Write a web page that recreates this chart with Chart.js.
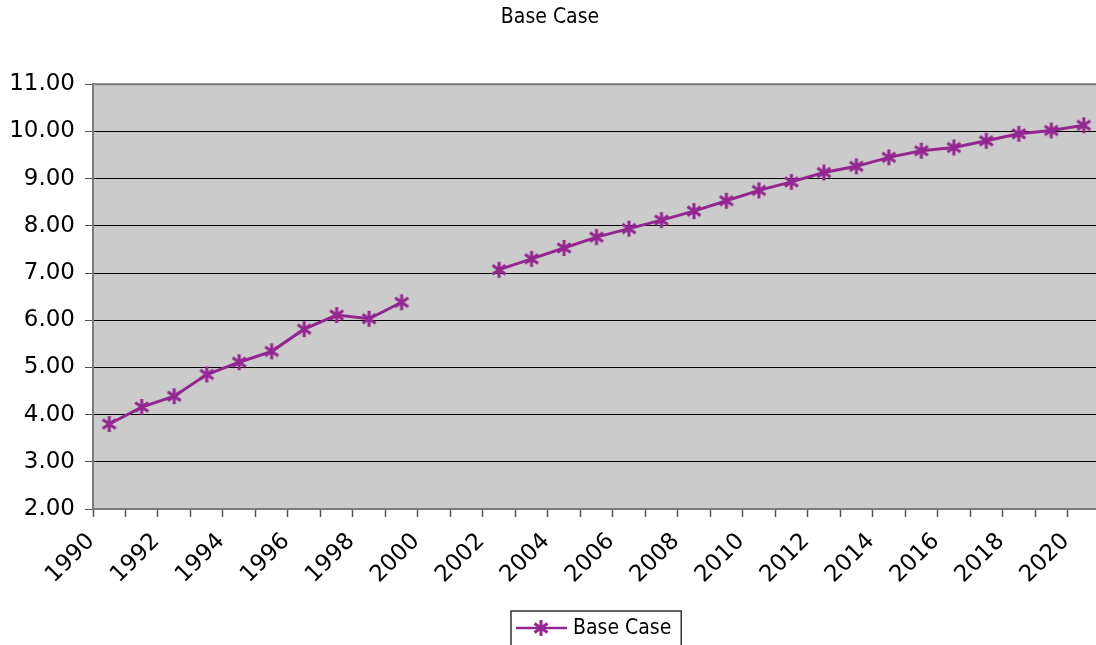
<!DOCTYPE html>
<html>
<head>
<meta charset="utf-8">
<title>Base Case</title>
<script src="https://cdn.jsdelivr.net/npm/chart.js@4.4.1/dist/chart.umd.min.js"></script>
<style>
    html, body { margin: 0; padding: 0; background: #ffffff; overflow: hidden; }
    #wrap { position: relative; width: 1100px; height: 645px; }
</style>
</head>
<body>
<div id="wrap"><canvas id="base-case-chart"></canvas></div>
<script>
// Years on the category axis
const years = [];
for (let y = 1990; y <= 2020; y++) years.push(String(y));

// Base Case series (no values for 2000 and 2001)
const baseCase = [
    3.80, 4.16, 4.39, 4.85, 5.11, 5.34, 5.81, 6.11, 6.03, 6.38,
    null, null,
    7.07, 7.30, 7.53, 7.76, 7.94, 8.12, 8.31, 8.53, 8.75, 8.93,
    9.13, 9.26, 9.45, 9.59, 9.66, 9.80, 9.95, 10.02, 10.13
];

// Only every second year gets a label
const shownYears = years.filter((y, i) => i % 2 === 0);

const seriesColor = '#93278f';
const tickFont = { family: '"DejaVu Sans", Verdana, sans-serif', size: 23 };
const labelFont = '"DejaVu Sans Condensed", "Liberation Sans", sans-serif';

// Asterisk marker like the spreadsheet one
function makeAsterisk(size) {
    const c = document.createElement('canvas');
    c.width = size;
    c.height = size;
    const g = c.getContext('2d');
    const m = size / 2;
    const r = size / 2 - 1;
    g.strokeStyle = seriesColor;
    g.lineWidth = 3;
    g.lineCap = 'butt';
    g.beginPath();
    g.moveTo(m, m - r); g.lineTo(m, m + r);
    const a = 35 * Math.PI / 180;
    const dx = r * Math.cos(a), dy = r * Math.sin(a);
    g.moveTo(m - dx, m - dy); g.lineTo(m + dx, m + dy);
    g.moveTo(m - dx, m + dy); g.lineTo(m + dx, m - dy);
    g.stroke();
    return c;
}
const asterisk = makeAsterisk(18);

// Gray plot area with a border
const plotArea = {
    id: 'plotArea',
    beforeDraw(chart) {
        const a = chart.chartArea;
        const ctx = chart.ctx;
        ctx.save();
        ctx.fillStyle = '#cbcbcb';
        ctx.fillRect(a.left, a.top, a.right - a.left, a.bottom - a.top);
        ctx.restore();
    },
    beforeDatasetsDraw(chart) {
        const a = chart.chartArea;
        const ctx = chart.ctx;
        ctx.save();
        ctx.strokeStyle = '#7a7a7a';
        ctx.lineWidth = 2;
        ctx.strokeRect(a.left, a.top, a.right - a.left, a.bottom - a.top);
        ctx.restore();
    }
};

// Boxed legend under the axis labels
const boxLegend = {
    id: 'boxLegend',
    afterDraw(chart) {
        const a = chart.chartArea;
        const ctx = chart.ctx;
        const text = chart.data.datasets[0].label;
        ctx.save();
        ctx.font = '21px ' + labelFont;
        const tw = ctx.measureText(text).width;
        const w = 5 + 51 + 6 + tw + 10;
        const left = Math.round((a.left + a.right) / 2 - w / 2);
        const top = a.bottom + 102;
        const mid = top + 17;
        ctx.fillStyle = '#ffffff';
        ctx.fillRect(left, top, w, 40);
        ctx.strokeStyle = '#333333';
        ctx.lineWidth = 1.5;
        ctx.strokeRect(left, top, w, 40);
        ctx.strokeStyle = seriesColor;
        ctx.lineWidth = 2.5;
        ctx.beginPath();
        ctx.moveTo(left + 5, mid);
        ctx.lineTo(left + 56, mid);
        ctx.stroke();
        ctx.drawImage(asterisk, left + 30 - 9, mid - 9);
        ctx.fillStyle = '#000000';
        ctx.textBaseline = 'middle';
        ctx.fillText(text, left + 62, mid + 1);
        ctx.restore();
    }
};

const ctx = document.getElementById('base-case-chart').getContext('2d');
const baseCaseChart = new Chart(ctx, {
    type: 'line',
    data: {
        labels: years,
        datasets: [{
            label: 'Base Case',
            data: baseCase,
            borderColor: seriesColor,
            backgroundColor: seriesColor,
            borderWidth: 3,
            pointStyle: asterisk,
            pointRadius: 9,
            spanGaps: false,
            tension: 0
        }]
    },
    options: {
        responsive: true,
        maintainAspectRatio: false,
        animation: false,
        layout: {
            autoPadding: false,
            padding: { left: 0, right: 0, top: 0, bottom: 0 }
        },
        plugins: {
            legend: { display: false },
            tooltip: { enabled: false },
            title: {
                display: true,
                text: 'Base Case',
                color: '#000000',
                font: { family: labelFont, size: 21, weight: 'normal' },
                padding: { top: 5, bottom: 54 }
            }
        },
        scales: {
            x: {
                offset: true,
                grid: {
                    offset: true,
                    drawOnChartArea: false,
                    drawTicks: true,
                    tickLength: 8,
                    tickColor: '#555555',
                    tickWidth: 1.5
                },
                border: { color: '#7a7a7a', width: 2 },
                ticks: {
                    autoSkip: false,
                    minRotation: 45,
                    maxRotation: 45,
                    padding: 11,
                    labelOffset: -18,
                    color: '#000000',
                    font: tickFont,
                    callback: function(value) {
                        const y = this.getLabelForValue(value);
                        return shownYears.includes(y) ? y : '';
                    }
                },
                afterFit: function(scale) {
                    scale.height = 136;
                    scale.paddingLeft = 0;
                    scale.paddingRight = 0;
                }
            },
            y: {
                min: 2,
                max: 11,
                grid: {
                    color: '#000000',
                    lineWidth: 1,
                    drawTicks: true,
                    tickLength: 8,
                    tickColor: '#555555'
                },
                border: { color: '#7a7a7a', width: 2 },
                ticks: {
                    stepSize: 1,
                    padding: 10,
                    color: '#000000',
                    font: tickFont,
                    callback: function(value) { return value.toFixed(2); }
                },
                afterFit: function(scale) { scale.width = 93; }
            }
        }
    },
    plugins: [plotArea, boxLegend]
});
</script>
</body>
</html>
